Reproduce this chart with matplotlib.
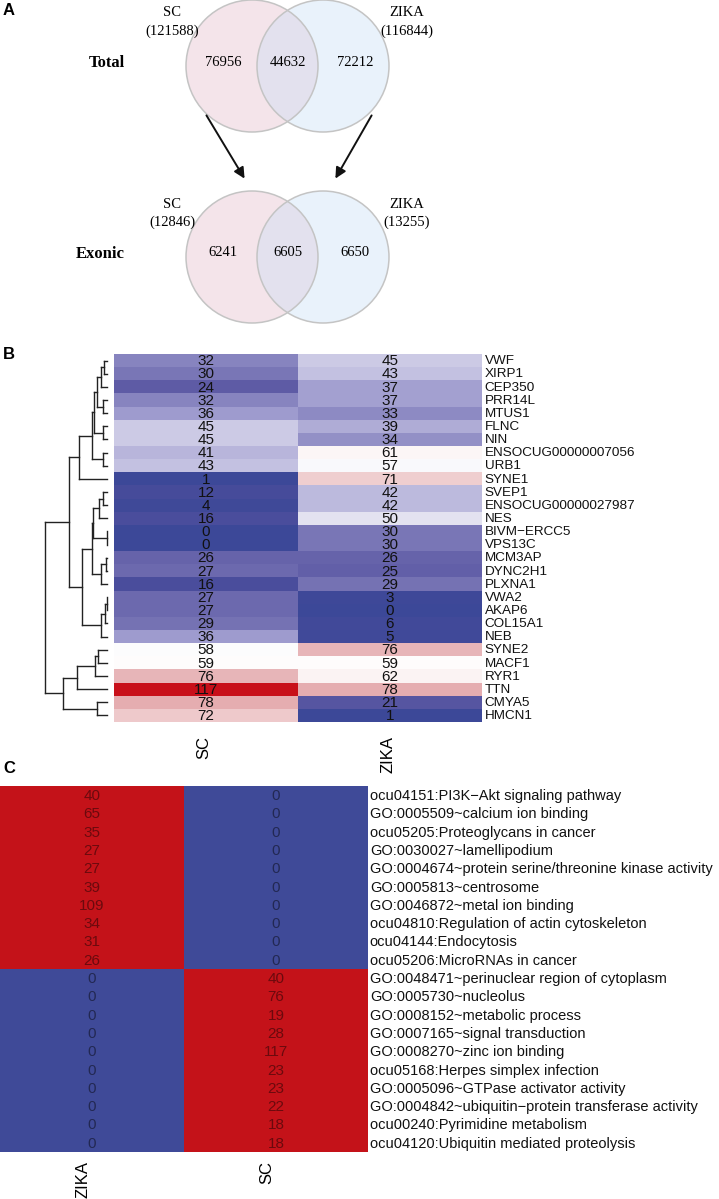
import matplotlib
matplotlib.use('Agg')
import matplotlib.pyplot as plt
import numpy as np
from matplotlib.patches import Circle
from matplotlib.colors import LinearSegmentedColormap, ListedColormap, BoundaryNorm

W, H = 719, 1199

# Panel A: venn counts
venn_rows = ['Total', 'Exonic']
venn_sc_total = [121588, 12846]
venn_zika_total = [116844, 13255]
venn_sc_only = [76956, 6241]
venn_shared = [44632, 6605]
venn_zika_only = [72212, 6650]

# Panel B: genes
genes = ['VWF', 'XIRP1', 'CEP350', 'PRR14L', 'MTUS1', 'FLNC', 'NIN',
         'ENSOCUG00000007056', 'URB1', 'SYNE1', 'SVEP1', 'ENSOCUG00000027987',
         'NES', 'BIVM\u2212ERCC5', 'VPS13C', 'MCM3AP', 'DYNC2H1', 'PLXNA1',
         'VWA2', 'AKAP6', 'COL15A1', 'NEB', 'SYNE2', 'MACF1', 'RYR1', 'TTN',
         'CMYA5', 'HMCN1']
gene_sc = [32, 30, 24, 32, 36, 45, 45, 41, 43, 1, 12, 4, 16, 0, 0, 26, 27, 16,
           27, 27, 29, 36, 58, 59, 76, 117, 78, 72]
gene_zika = [45, 43, 37, 37, 33, 39, 34, 61, 57, 71, 42, 42, 50, 30, 30, 26, 25, 29,
             3, 0, 6, 5, 76, 59, 62, 78, 21, 1]
gene_cols = ['SC', 'ZIKA']

# row clustering: (node, left, right, height)
gene_tree = [
    ('a', 0, 1, 3.0), ('b', 'a', 2, 6.3), ('c', 3, 4, 3.7), ('d', 'b', 'c', 10.3),
    ('e', 5, 6, 3.7), ('f', 'd', 'e', 13.0), ('g', 7, 8, 3.7), ('h', 'f', 'g', 15.0),
    ('i', 'h', 9, 27.7),
    ('j', 10, 11, 4.3), ('k', 'j', 12, 7.7), ('m', 13, 14, 0.0), ('n', 'k', 'm', 14.3),
    ('o', 15, 16, 1.0), ('p', 'o', 17, 5.7), ('q', 'n', 'p', 15.0),
    ('r', 18, 19, 0.3), ('s', 'r', 20, 2.0), ('t', 's', 21, 6.3), ('u', 'q', 't', 25.3),
    ('v', 'i', 'u', 37.7),
    ('w', 22, 23, 8.7), ('x', 'w', 24, 12.0), ('y', 'x', 25, 30.3),
    ('z', 26, 27, 10.3), ('zz', 'y', 'z', 43.7),
    ('root', 'v', 'zz', 62.0),
]

# Panel C: enriched terms
terms = ['ocu04151:PI3K\u2212Akt signaling pathway', 'GO:0005509~calcium ion binding',
         'ocu05205:Proteoglycans in cancer', 'GO:0030027~lamellipodium',
         'GO:0004674~protein serine/threonine kinase activity', 'GO:0005813~centrosome',
         'GO:0046872~metal ion binding', 'ocu04810:Regulation of actin cytoskeleton',
         'ocu04144:Endocytosis', 'ocu05206:MicroRNAs in cancer',
         'GO:0048471~perinuclear region of cytoplasm', 'GO:0005730~nucleolus',
         'GO:0008152~metabolic process', 'GO:0007165~signal transduction',
         'GO:0008270~zinc ion binding', 'ocu05168:Herpes simplex infection',
         'GO:0005096~GTPase activator activity',
         'GO:0004842~ubiquitin\u2212protein transferase activity',
         'ocu00240:Pyrimidine metabolism', 'ocu04120:Ubiquitin mediated proteolysis']
term_zika = [40, 65, 35, 27, 27, 39, 109, 34, 31, 26, 0, 0, 0, 0, 0, 0, 0, 0, 0, 0]
term_sc = [0, 0, 0, 0, 0, 0, 0, 0, 0, 0, 40, 76, 19, 28, 117, 23, 23, 22, 18, 18]
term_cols = ['ZIKA', 'SC']

SANS = ['Liberation Sans', 'DejaVu Sans']
SERIF = ['Liberation Serif', 'DejaVu Serif']

fig = plt.figure(figsize=(W / 100, H / 100), dpi=100)


def px_axes(left, top, width, height):
    return fig.add_axes([left / W, 1 - (top + height) / H, width / W, height / H])


# background axes in pixel units for panel A and the panel letters
bg = px_axes(0, 0, W, H)
bg.set_xlim(0, W)
bg.set_ylim(H, 0)
bg.axis('off')

for lab, y in zip(['A', 'B', 'C'], [3, 347, 761]):
    bg.text(3, y, lab, family=SANS, fontsize=12, fontweight='bold', va='top')

#Venn diagrams
r = 66
cx_l, cx_r = 252, 323
for i, cy in enumerate([66, 257]):
    left = Circle((cx_l, cy), r, facecolor='#f4e4ea', edgecolor='none')
    right = Circle((cx_r, cy), r, facecolor='#e9f2fb', edgecolor='none')
    bg.add_patch(left)
    bg.add_patch(right)
    lens = Circle((cx_r, cy), r, facecolor='#e3e1ee', edgecolor='none')
    bg.add_patch(lens)
    lens.set_clip_path(left)
    for cx in (cx_l, cx_r):
        bg.add_patch(Circle((cx, cy), r, facecolor='none', edgecolor='#c4c4c4', lw=1.1))

    bg.text(125, cy - 3, venn_rows[i], family=SERIF, fontsize=12, fontweight='bold',
            ha='right', va='center')
    bg.text(cx_l - 29, cy - 4, str(venn_sc_only[i]), family=SERIF, fontsize=10.5,
            ha='center', va='center')
    bg.text((cx_l + cx_r) / 2, cy - 4, str(venn_shared[i]), family=SERIF, fontsize=10.5,
            ha='center', va='center')
    bg.text(cx_r + 32, cy - 4, str(venn_zika_only[i]), family=SERIF, fontsize=10.5,
            ha='center', va='center')
    bg.text(cx_l - 80, cy - 53, 'SC', family=SERIF, fontsize=10.5, ha='center', va='center')
    bg.text(cx_l - 80, cy - 35, '(%d)' % venn_sc_total[i], family=SERIF, fontsize=10.5,
            ha='center', va='center')
    bg.text(cx_r + 84, cy - 53, 'ZIKA', family=SERIF, fontsize=10.5, ha='center', va='center')
    bg.text(cx_r + 84, cy - 35, '(%d)' % venn_zika_total[i], family=SERIF, fontsize=10.5,
            ha='center', va='center')

arrow = dict(arrowstyle='-|>', color='#111111', lw=1.4, mutation_scale=16)
bg.annotate('', xy=(246, 181), xytext=(205, 113), arrowprops=arrow)
bg.annotate('', xy=(334, 181), xytext=(373, 113), arrowprops=arrow)

# Panel B heatmap
cmap_b = LinearSegmentedColormap.from_list('gene_map', [
    (0 / 117, '#3c4898'), (16 / 117, '#4a4d9c'), (24 / 117, '#5f5ca6'),
    (30 / 117, '#7a77b7'), (36 / 117, '#a09dcf'), (45 / 117, '#cdcbe6'),
    (50 / 117, '#e3e2f0'), (58.5 / 117, '#ffffff'), (62 / 117, '#fbf3f3'),
    (71 / 117, '#f0cfd0'), (78 / 117, '#e5adb0'), (1.0, '#c8101a')])

data_b = np.column_stack([gene_sc, gene_zika])
axb = px_axes(114, 354, 368, 368)
axb.imshow(data_b, cmap=cmap_b, vmin=0, vmax=117, aspect='auto', interpolation='nearest')
axb.axis('off')
for i in range(len(genes)):
    for j in range(2):
        axb.text(j, i + 0.05, str(data_b[i, j]), family=SANS, fontsize=11, color='#111111',
                 ha='center', va='center')
    axb.text(1.515, i + 0.05, genes[i], family=SANS, fontsize=9.7, color='#111111',
             ha='left', va='center', clip_on=False)
for j, lab in enumerate(gene_cols):
    axb.text(j - 0.01, 28.6, lab, family=SANS, fontsize=12, rotation=90,
             ha='center', va='top', clip_on=False)

# dendrogram
axd = px_axes(30, 354, 84, 368)
axd.set_ylim(len(genes) - 0.5, -0.5)
axd.set_xlim(77, -7)
axd.axis('off')
pos = {}
for name, left, right, h in gene_tree:
    pts = []
    for child in (left, right):
        if isinstance(child, str):
            pts.append(pos[child])
        else:
            pts.append((float(child), 0.0))
    for y, ch in pts:
        axd.plot([ch, h], [y, y], color='#222222', lw=1.0)
    axd.plot([h, h], [pts[0][0], pts[1][0]], color='#222222', lw=1.0)
    pos[name] = ((pts[0][0] + pts[1][0]) / 2, h)

# Panel C heatmap
data_c = np.column_stack([term_zika, term_sc])
cmap_c = ListedColormap(['#3f4a98', '#c41219'])
norm_c = BoundaryNorm([-0.5, 0.5, 200], cmap_c.N)
axc = px_axes(0, 786, 368, 366)
axc.imshow(data_c, cmap=cmap_c, norm=norm_c, aspect='auto', interpolation='nearest')
axc.axis('off')
for i in range(len(terms)):
    for j in range(2):
        axc.text(j, i + 0.05, str(data_c[i, j]), family=SANS, fontsize=11,
                 color=(0, 0, 0, 0.45), ha='center', va='center')
    axc.text(1.51, i + 0.05, terms[i], family=SANS, fontsize=10.5, color='#111111',
             ha='left', va='center', clip_on=False)
for j, lab in enumerate(term_cols):
    axc.text(j - 0.05, 20.0, lab, family=SANS, fontsize=12, rotation=90,
             ha='center', va='top', clip_on=False)

fig.savefig('out.png', dpi=100)
